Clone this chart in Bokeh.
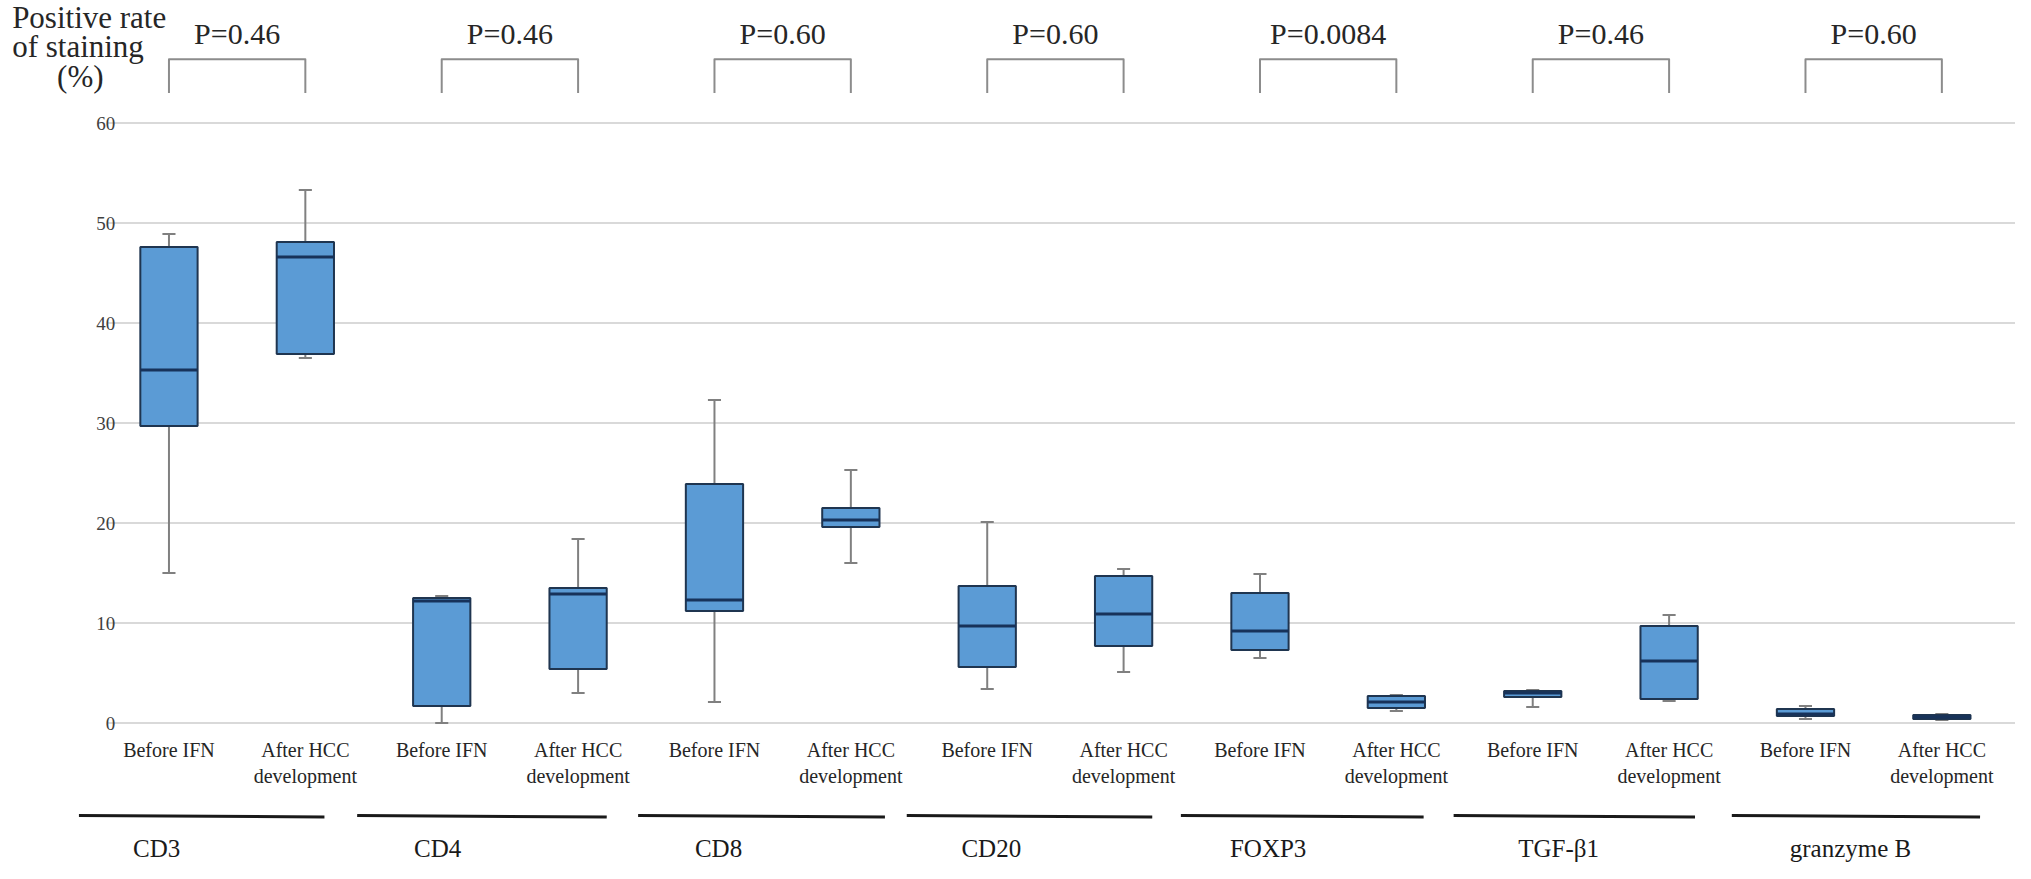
from bokeh.plotting import figure
from bokeh.models import Range1d, FixedTicker, ColumnDataSource
from bokeh.core.properties import value
from bokeh.embed import file_html
from bokeh.resources import INLINE

# ---- data ----
groups = ["CD3", "CD4", "CD8", "CD20", "FOXP3", "TGF-\u03b21", "granzyme B"]
conditions = ["Before IFN", "After HCC development"]
p_values = ["P=0.46", "P=0.46", "P=0.60", "P=0.60", "P=0.0084", "P=0.46", "P=0.60"]
whisker_low = [15.0, 36.5, 0.0, 3.0, 2.1, 16.0, 3.4, 5.1, 6.5, 1.2, 1.6, 2.2, 0.4, 0.3]
q1 = [29.7, 36.9, 1.7, 5.4, 11.2, 19.6, 5.6, 7.7, 7.3, 1.5, 2.6, 2.4, 0.7, 0.4]
median = [35.3, 46.6, 12.2, 12.9, 12.3, 20.3, 9.7, 10.9, 9.2, 2.1, 3.0, 6.2, 0.9, 0.6]
q3 = [47.6, 48.1, 12.5, 13.5, 23.9, 21.5, 13.7, 14.7, 13.0, 2.7, 3.2, 9.7, 1.4, 0.8]
whisker_high = [48.9, 53.3, 12.7, 18.4, 32.3, 25.3, 20.1, 15.4, 14.9, 2.8, 3.3, 10.8, 1.7, 0.9]
y_ticks = [0, 10, 20, 30, 40, 50, 60]
y_title = ["Positive rate", "of staining", "(%)"]

SERIF = "Liberation Serif"
n = len(groups) * len(conditions)
xc = [i + 0.5 for i in range(n)]
BW = 0.42
CAP = 0.048

X0, X1 = -0.7353, 14.04
p = figure(width=2015, height=863, output_backend="svg", toolbar_location=None,
           x_range=Range1d(X0, X1), y_range=Range1d(-14.05, 72.25),
           min_border_left=0, min_border_right=0, min_border_top=0, min_border_bottom=0)
p.outline_line_color = None
p.xaxis.visible = False
p.xgrid.visible = False
p.ygrid.visible = False

yax = p.yaxis[0]
yax.fixed_location = 0.12
yax.ticker = FixedTicker(ticks=y_ticks)
yax.axis_line_color = None
yax.major_tick_line_color = None
yax.minor_tick_line_color = None
yax.major_tick_out = 0
yax.major_tick_in = 0
yax.minor_tick_out = 0
yax.major_label_standoff = 2
yax.major_label_text_font = SERIF
yax.major_label_text_font_size = "19px"
yax.major_label_text_color = "#404040"

# horizontal gridlines
p.segment(x0=[0.05] * len(y_ticks), x1=[X1] * len(y_ticks), y0=y_ticks, y1=y_ticks,
          line_color="#d9d9d9", line_width=2)

src = ColumnDataSource(dict(x=xc, lo=whisker_low, q1=q1, med=median, q3=q3, hi=whisker_high,
                            xl=[x - CAP for x in xc], xr=[x + CAP for x in xc],
                            ml=[x - BW / 2 for x in xc], mr=[x + BW / 2 for x in xc]))
# whiskers
p.segment(x0="x", x1="x", y0="q3", y1="hi", source=src, line_color="#808080", line_width=2)
p.segment(x0="x", x1="x", y0="lo", y1="q1", source=src, line_color="#808080", line_width=2)
p.segment(x0="xl", x1="xr", y0="hi", y1="hi", source=src, line_color="#808080", line_width=2)
p.segment(x0="xl", x1="xr", y0="lo", y1="lo", source=src, line_color="#808080", line_width=2)
# boxes
p.vbar(x="x", width=BW, bottom="q1", top="q3", source=src, fill_color="#5b9bd5",
       line_color="#1f3550", line_width=2)
p.segment(x0="ml", x1="mr", y0="med", y1="med", source=src, line_color="#17325a", line_width=3)

# category labels
line1 = ["Before IFN", "After HCC"]
line2 = ["", "development"]
lab1 = [line1[i % 2] for i in range(n)]
lab2 = [line2[i % 2] for i in range(n)]
p.text(x=xc, y=[-2.73] * n, text=lab1, text_align="center", text_baseline="middle",
       text_font=value(SERIF), text_font_size="20px", text_color="#262626")
p.text(x=xc, y=[-5.30] * n, text=lab2, text_align="center", text_baseline="middle",
       text_font=value(SERIF), text_font_size="20px", text_color="#262626")

# group underline bars and names (placed as in the original figure)
g_x0 = [-0.16, 1.88, 3.94, 5.91, 7.92, 9.92, 11.96]
g_x1 = [1.64, 3.71, 5.75, 7.71, 9.70, 11.69, 13.78]
g_lab = [0.41, 2.47, 4.53, 6.53, 8.56, 10.69, 12.83]
p.segment(x0=g_x0, x1=g_x1, y0=[-9.25] * 7, y1=[-9.4] * 7, line_color="#1a1a1a", line_width=3)
p.text(x=g_lab, y=[-12.5] * 7, text=groups, text_align="center", text_baseline="middle",
       text_font=value(SERIF), text_font_size="25px", text_color="#1a1a1a")

# p-value brackets
gl = [2 * g + 0.5 for g in range(len(groups))]
gr = [2 * g + 1.5 for g in range(len(groups))]
gm = [2 * g + 1.0 for g in range(len(groups))]
BT, BB = 66.37, 63.0
p.multi_line(xs=[[a, a, b, b] for a, b in zip(gl, gr)],
             ys=[[BB, BT, BT, BB] for _ in gl], line_color="#8c8c8c", line_width=2,
             line_join="round")
p.text(x=gm, y=[68.96] * 7, text=p_values, text_align="center", text_baseline="middle",
       text_font=value(SERIF), text_font_size="30px", text_color="#262626")

# y-axis title (top-left)
p.text(x=[-0.65, -0.65, -0.15], y=[70.55, 67.65, 64.65], text=y_title,
       text_align=["left", "left", "center"], text_baseline="middle",
       text_font=value(SERIF), text_font_size="31px", text_color="#262626")

open("out.html", "w").write(file_html(p, INLINE))
